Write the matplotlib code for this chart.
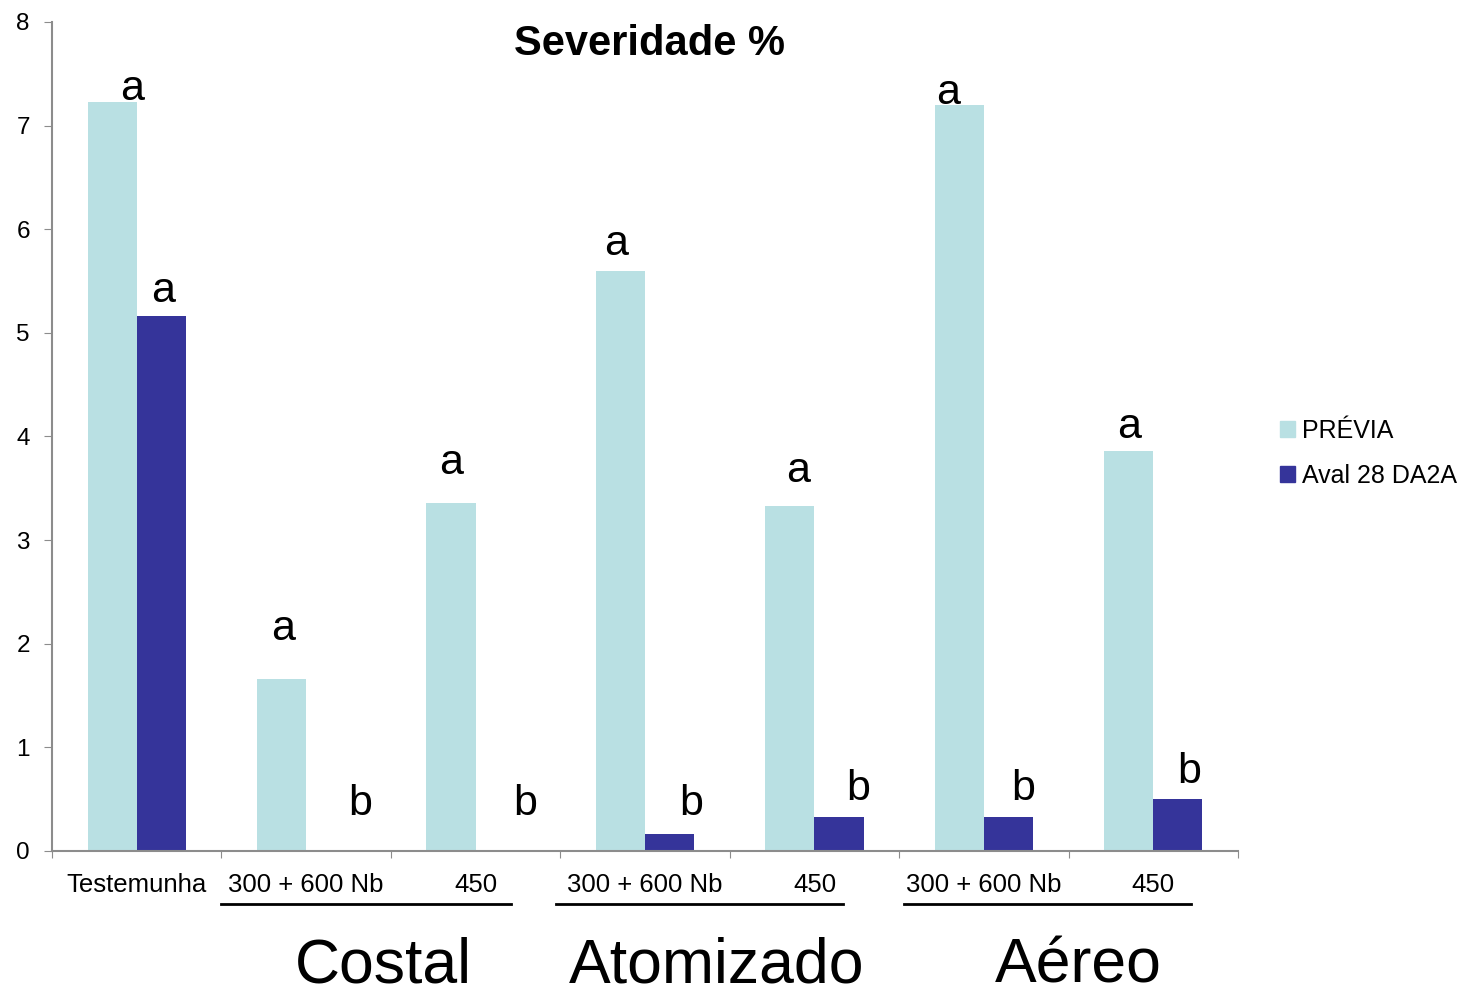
import matplotlib.pyplot as plt
import numpy as np
from matplotlib.patches import Patch

plt.rcParams['font.family'] = ['Liberation Sans', 'DejaVu Sans']

# Tratamentos e valores de severidade
tratamentos = ['Testemunha', '300 + 600 Nb', '450', '300 + 600 Nb', '450', '300 + 600 Nb', '450']
previa = [7.23, 1.66, 3.36, 5.60, 3.33, 7.20, 3.86]
aval28 = [5.16, 0.0, 0.0, 0.16, 0.33, 0.33, 0.50]

# Letras do teste de médias
letras_previa = ['a', 'a', 'a', 'a', 'a', 'a', 'a']
letras_aval = ['a', 'b', 'b', 'b', 'b', 'b', 'b']

# Grupos de aplicação
grupos = ['Costal', 'Atomizado', 'Aéreo']

cor_previa = '#B9E0E3'
cor_aval = '#35349A'
cinza = '#8C8C8C'

fig = plt.figure(figsize=(14.7, 9.96), dpi=100)
ax = fig.add_axes([0.0354, 0.1456, 0.8068, 0.8324])

x = np.arange(len(tratamentos))
w = 0.29
ax.bar(x - w / 2, previa, w, color=cor_previa, label='PRÉVIA')
ax.bar(x + w / 2, aval28, w, color=cor_aval, label='Aval 28 DA2A')

# deslocamento das letras em pixels (dx, dy)
desl_previa = [(20, 2), (2, 39), (0, 29), (-4, 16), (8, 24), (-11, 1), (0, 13)]
desl_aval = [(2, 14), (29, 36), (25, 36), (22, 19), (19, 17), (15, 17), (11, 16)]

for i in range(len(tratamentos)):
    ax.annotate(letras_previa[i], (x[i] - w / 2, previa[i]), xytext=desl_previa[i],
                textcoords='offset pixels', ha='center', va='baseline', fontsize=31)
    ax.annotate(letras_aval[i], (x[i] + w / 2, aval28[i]), xytext=desl_aval[i],
                textcoords='offset pixels', ha='center', va='baseline', fontsize=31)

ax.set_xlim(-0.5, len(tratamentos) - 0.5)
ax.set_ylim(0, 8)
ax.set_yticks(range(0, 9))
ax.tick_params(axis='y', labelsize=17.5, length=6, color=cinza, pad=10)

# marcas nas divisas e rótulos nos centros
ax.set_xticks(np.arange(-0.5, len(tratamentos)), labels=[])
ax.set_xticks(x, labels=tratamentos, minor=True)
ax.tick_params(axis='x', which='major', length=5, color=cinza)
ax.tick_params(axis='x', which='minor', length=0, labelsize=18.5, pad=16)

for lado in ['top', 'right']:
    ax.spines[lado].set_visible(False)
for lado in ['left', 'bottom']:
    ax.spines[lado].set_color(cinza)
    ax.spines[lado].set_linewidth(1.5)

ax.text(0.504, 0.973, 'Severidade %', transform=ax.transAxes, ha='center',
        va='center', fontsize=30, fontweight='bold')

# Sublinhado e nome de cada grupo
trans = ax.get_xaxis_transform()
linhas = [(0.5, 2.206), (2.475, 4.17), (4.53, 6.22)]
centros = [1.454, 3.42, 5.557]
for nome, (l0, l1), c in zip(grupos, linhas, centros):
    ax.plot([l0, l1], [-0.064, -0.064], color='black', lw=2, transform=trans, clip_on=False)
    ax.text(c, -0.159, nome, transform=trans, ha='center', va='baseline', fontsize=45)

fig.legend(handles=[Patch(color=cor_previa, label='PRÉVIA'), Patch(color=cor_aval, label='Aval 28 DA2A')],
           loc='center left', bbox_to_anchor=(0.871, 0.545), frameon=False, fontsize=18,
           handlelength=0.6, handleheight=0.6, handletextpad=0.25, labelspacing=0.85,
           borderpad=0, borderaxespad=0)

fig.savefig('out.png', dpi=100)
